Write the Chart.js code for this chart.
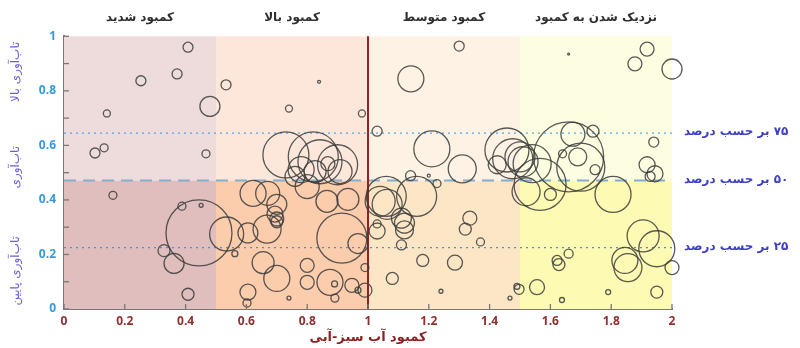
<!DOCTYPE html>
<html>
<head>
<meta charset="utf-8">
<script src="https://cdn.jsdelivr.net/npm/chart.js@4.4.1/dist/chart.umd.min.js"></script>
<style>
    html, body { margin: 0; padding: 0; background: #fff; }
    #wrap { width: 800px; height: 348px; position: relative; }
</style>
</head>
<body>
<div id="wrap"><canvas id="scarcityChart"></canvas></div>
<script>
// zones along the x axis (water scarcity index)
const zoneEdges = [0, 0.5, 1, 1.5, 2];
const zoneLabels = ['کمبود شدید', 'کمبود بالا', 'کمبود متوسط', 'نزدیک شدن به کمبود'];
const zoneUpperColors = ['#eddcdb', '#fde7da', '#fdf2e3', '#fdfde1'];
const zoneLowerColors = ['#e0bebd', '#fccdad', '#fce6c5', '#fcfab3'];

// resilience percentiles
const percentileValues = [0.645, 0.471, 0.225];
const percentileLabels = ['۷۵ بر حسب درصد', '۵۰ بر حسب درصد', '۲۵ بر حسب درصد'];
const resilienceLabels = ['تاب‌آوری بالا', 'تاب‌آوری', 'تاب‌آوری پایین'];
const resilienceLabelValues = [0.87, 0.52, 0.14];

const xTitle = 'کمبود آب سبز-آبی';

// bubbles: scarcity (x), resilience (y), size
const bubbleX = [
    0.408, 0.372, 0.253, 0.141, 0.48, 0.102, 0.132, 0.467, 0.161, 0.388,
    0.451, 0.444, 0.329, 0.362, 0.408,
    0.533, 0.839, 0.74, 0.98, 0.73, 0.82, 0.842, 0.90, 0.78, 0.826,
    0.868, 0.76, 0.908, 0.80, 0.622, 0.67, 0.70, 0.865, 0.934, 0.535,
    0.562, 0.605, 0.668, 0.694, 0.70, 0.70, 0.655, 0.70, 0.605, 0.602,
    0.74, 0.914, 0.967, 0.80, 0.80, 0.875, 0.89, 0.947, 0.967, 0.99,
    0.99, 0.891,
    1.03, 1.141, 1.30, 1.21, 1.31, 1.14, 1.2, 1.227, 1.06, 1.16,
    1.063, 1.335, 1.11, 1.457, 1.476, 1.425, 1.51, 1.52, 1.32, 1.37,
    1.18, 1.286, 1.08, 1.24, 1.467, 1.497, 1.49, 1.03, 1.12, 1.12,
    1.11, 1.03, 1.04,
    1.66, 1.918, 1.878, 2.0, 1.674, 1.74, 1.66, 1.69, 1.64, 1.747,
    1.70, 1.566, 1.6, 1.806, 1.50, 1.54, 1.94, 1.918, 1.944, 1.928,
    1.905, 1.95, 1.845, 1.855, 2.0, 1.95, 1.79, 1.638, 1.556, 1.622,
    1.628, 1.66
];
const bubbleY = [
    0.96, 0.862, 0.837, 0.717, 0.743, 0.572, 0.591, 0.569, 0.417, 0.377,
    0.38, 0.279, 0.214, 0.167, 0.054,
    0.822, 0.833, 0.735, 0.717, 0.565, 0.558, 0.54, 0.529, 0.511, 0.504,
    0.533, 0.486, 0.504, 0.449, 0.424, 0.424, 0.384, 0.395, 0.402, 0.275,
    0.203, 0.279, 0.293, 0.348, 0.33, 0.32, 0.17, 0.112, 0.062, 0.022,
    0.04, 0.26, 0.24, 0.16, 0.098, 0.098, 0.092, 0.087, 0.069, 0.069,
    0.152, 0.04,
    0.652, 0.844, 0.964, 0.587, 0.514, 0.489, 0.489, 0.46, 0.413, 0.413,
    0.384, 0.333, 0.333, 0.583, 0.551, 0.529, 0.54, 0.43, 0.293, 0.246,
    0.178, 0.17, 0.112, 0.065, 0.04, 0.072, 0.083, 0.286, 0.315, 0.29,
    0.235, 0.312, 0.395,
    0.935, 0.953, 0.899, 0.88, 0.641, 0.652, 0.558, 0.558, 0.569, 0.511,
    0.52, 0.457, 0.42, 0.42, 0.558, 0.533, 0.612, 0.529, 0.496, 0.486,
    0.268, 0.221, 0.178, 0.152, 0.152, 0.062, 0.062, 0.033, 0.08, 0.178,
    0.163, 0.203
];
const bubbleSize = [
    5, 5, 5, 3.5, 10, 5, 4, 4, 4, 4,
    2, 33, 6, 10, 6,
    5, 1.5, 3.5, 3.5, 23, 25, 22, 20, 13, 11,
    7, 10, 12, 12, 13, 12, 10, 11, 11, 17,
    3, 10, 14, 8, 7, 6, 11, 13, 8, 4,
    2, 25, 10, 7, 7, 13, 3, 7, 3, 7,
    4, 4,
    5, 13, 5, 18, 14, 5, 1.5, 4, 20, 20,
    15, 7, 10, 22, 20, 9, 15, 14, 6, 4,
    6, 7.5, 6, 2, 2, 5, 3, 8, 10, 9,
    5, 4, 15,
    1, 7, 7, 10, 12, 6, 35, 9, 4, 5,
    24, 26, 6, 18, 15, 19, 5, 8, 8, 5,
    16, 18, 13, 14, 7, 6, 2.5, 2.5, 7.5, 5,
    6, 4.5
];

const bubbles = bubbleX.map((x, i) => ({ x, y: bubbleY[i], r: bubbleSize[i] }));

const fa = 'DejaVu Sans';

// zone backgrounds, percentile lines and the x=1 divider
const backdrop = {
    id: 'backdrop',
    beforeDatasetsDraw(chart) {
        const { ctx, chartArea, scales: { x, y } } = chart;
        const mid = y.getPixelForValue(percentileValues[1]);
        ctx.save();
        for (let i = 0; i < zoneLabels.length; i++) {
            const x0 = x.getPixelForValue(zoneEdges[i]);
            const x1 = x.getPixelForValue(zoneEdges[i + 1]);
            ctx.fillStyle = zoneUpperColors[i];
            ctx.fillRect(x0, chartArea.top, x1 - x0, mid - chartArea.top);
            ctx.fillStyle = zoneLowerColors[i];
            ctx.fillRect(x0, mid, x1 - x0, chartArea.bottom - mid);
        }

        const styles = [
            { color: '#4fa9e0', width: 1.3, dash: [2, 4] },
            { color: '#86aecb', width: 2, dash: [12, 7] },
            { color: '#4f8fd0', width: 1.3, dash: [2, 4] }
        ];
        percentileValues.forEach((v, i) => {
            const py = y.getPixelForValue(v);
            ctx.strokeStyle = styles[i].color;
            ctx.lineWidth = styles[i].width;
            ctx.setLineDash(styles[i].dash);
            ctx.beginPath();
            ctx.moveTo(chartArea.left, py);
            ctx.lineTo(chartArea.right, py);
            ctx.stroke();
        });
        ctx.setLineDash([]);

        const px = x.getPixelForValue(1);
        ctx.strokeStyle = '#8e2424';
        ctx.lineWidth = 2;
        ctx.beginPath();
        ctx.moveTo(px, chartArea.top);
        ctx.lineTo(px, chartArea.bottom);
        ctx.stroke();
        ctx.restore();
    }
};

// inward tick marks and all the Persian captions
const captions = {
    id: 'captions',
    afterDraw(chart) {
        const { ctx, chartArea, scales: { x, y } } = chart;
        ctx.save();
        ctx.strokeStyle = '#777';
        ctx.lineWidth = 1.3;
        y.ticks.forEach(t => {
            const py = y.getPixelForValue(t.value);
            ctx.beginPath();
            ctx.moveTo(chartArea.left, py);
            ctx.lineTo(chartArea.left + 5, py);
            ctx.stroke();
        });
        x.ticks.forEach(t => {
            const px = x.getPixelForValue(t.value);
            ctx.beginPath();
            ctx.moveTo(px, chartArea.bottom);
            ctx.lineTo(px, chartArea.bottom - 5);
            ctx.stroke();
        });

        ctx.direction = 'rtl';
        ctx.textBaseline = 'middle';

        ctx.fillStyle = '#2e2e2e';
        ctx.font = 'bold 12px "' + fa + '"';
        ctx.textAlign = 'center';
        zoneLabels.forEach((label, i) => {
            const cx = (x.getPixelForValue(zoneEdges[i]) + x.getPixelForValue(zoneEdges[i + 1])) / 2;
            ctx.fillText(label, cx, 18);
        });

        ctx.fillStyle = '#3c3fc4';
        ctx.font = 'bold 12px "' + fa + '"';
        ctx.textAlign = 'left';
        percentileLabels.forEach((label, i) => {
            ctx.fillText(label, chartArea.right + 12, y.getPixelForValue(percentileValues[i]) - 1);
        });

        ctx.fillStyle = '#6a5fd6';
        ctx.font = '12px "' + fa + '"';
        ctx.textAlign = 'center';
        resilienceLabels.forEach((label, i) => {
            ctx.save();
            ctx.translate(16, y.getPixelForValue(resilienceLabelValues[i]));
            ctx.rotate(-Math.PI / 2);
            ctx.fillText(label, 0, 0);
            ctx.restore();
        });

        ctx.fillStyle = '#8e1f1f';
        ctx.font = 'bold 13px "' + fa + '"';
        ctx.fillText(xTitle, (chartArea.left + chartArea.right) / 2, 338);
        ctx.restore();
    }
};

new Chart(document.getElementById('scarcityChart'), {
    type: 'bubble',
    data: {
        datasets: [{
            data: bubbles,
            backgroundColor: 'rgba(0, 0, 0, 0)',
            borderColor: 'rgba(60, 60, 60, 0.85)',
            borderWidth: 1.3,
            clip: false
        }]
    },
    options: {
        responsive: true,
        maintainAspectRatio: false,
        animation: false,
        layout: { padding: { top: 33, right: 128, left: 0, bottom: 0 } },
        plugins: {
            legend: { display: false },
            tooltip: { enabled: false }
        },
        scales: {
            x: {
                type: 'linear',
                min: 0,
                max: 2,
                afterFit(s) { s.height = 39; },
                grid: { display: false, drawTicks: false },
                border: { display: true, color: '#777', width: 2 },
                ticks: {
                    stepSize: 0.2,
                    padding: 5,
                    color: '#8e3030',
                    font: { family: 'Open Sans', size: 12, weight: 'bold' },
                    callback: v => String(Math.round(v * 10) / 10)
                }
            },
            y: {
                type: 'linear',
                min: 0,
                max: 1,
                afterFit(s) { s.width = 64; },
                grid: { display: false, drawTicks: false },
                border: { display: true, color: '#777', width: 2 },
                ticks: {
                    stepSize: 0.1,
                    padding: 8,
                    color: '#3a9ad8',
                    font: { family: 'Open Sans', size: 12, weight: 'bold' },
                    callback: v => (Math.round(v * 10) % 2 === 0 ? String(Math.round(v * 10) / 10) : '')
                }
            }
        }
    },
    plugins: [backdrop, captions]
});
</script>
</body>
</html>
